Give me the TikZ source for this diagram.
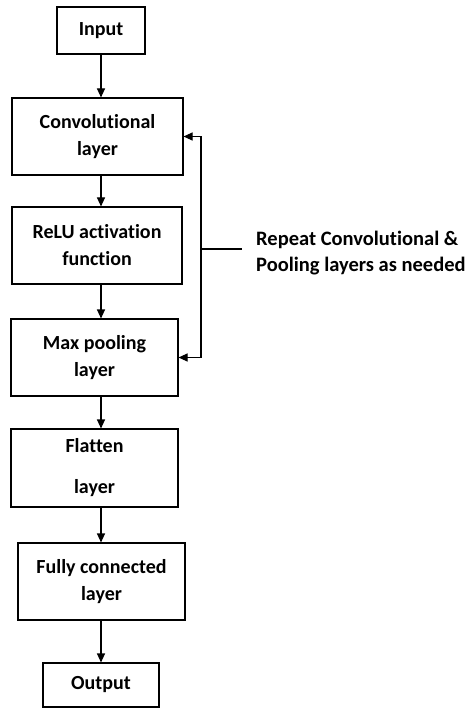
\documentclass[tikz,border=0pt]{standalone}
\usepackage{fontspec}
\setmainfont[Ligatures=NoCommon]{Carlito}
\usetikzlibrary{arrows.meta}

\tikzset{
  layerbox/.style={draw, line width=1.1pt, minimum width=#1, minimum height=77pt,
    inner sep=0pt, align=center, font=\fontsize{20}{27}\selectfont\bfseries},
  arr/.style={-{Triangle[length=9pt,width=8pt]}, line width=1.1pt},
}

\begin{document}
\begin{tikzpicture}[x=1pt,y=-1pt]
  \useasboundingbox (0,0) rectangle (471,708);

  % Main stack of layers
  \node[layerbox=88pt, minimum height=47pt] (in) at (101,30.5) {Input};
  \node[layerbox=171pt] (conv) at (97.5,136.5) {Convolutional\\layer};
  \node[layerbox=170pt] (relu) at (97,245.5) {ReLU activation\\function};
  \node[layerbox=167pt] (pool) at (94.5,357.5) {Max pooling\\layer};
  \node[layerbox=167pt, minimum height=78pt] (flat) at (94.5,468) {Flatten\\[14pt]layer};
  \node[layerbox=167pt] (fc) at (101.5,581.5) {Fully connected\\layer};
  \node[layerbox=116pt, minimum height=44pt] (out) at (101,685) {Output};

  % Vertical arrows between the layers
  \coordinate (spine) at (101,0);
  \draw[arr] (in.south -| spine) -- (conv.north -| spine);
  \draw[arr] (conv.south -| spine) -- (relu.north -| spine);
  \draw[arr] (relu.south -| spine) -- (pool.north -| spine);
  \draw[arr] (pool.south -| spine) -- (flat.north -| spine);
  \draw[arr] (flat.south -| spine) -- (fc.north -| spine);
  \draw[arr] (fc.south -| spine) -- (out.north -| spine);

  % Loop back over conv + pooling
  \coordinate (loop) at (201,249);
  \node[anchor=west, align=left, inner sep=0pt,
    font=\fontsize{20.5}{26}\selectfont\bfseries] (note) at (256,253)
    {Repeat Convolutional \&\\Pooling layers as needed};
  \draw[arr] (loop |- conv.east) -- (conv.east);
  \draw[arr] (loop |- conv.east) |- (pool.east);
  \draw[line width=1.1pt] (loop) -- ([xshift=-14pt]note.west |- loop);

\end{tikzpicture}
\end{document}
